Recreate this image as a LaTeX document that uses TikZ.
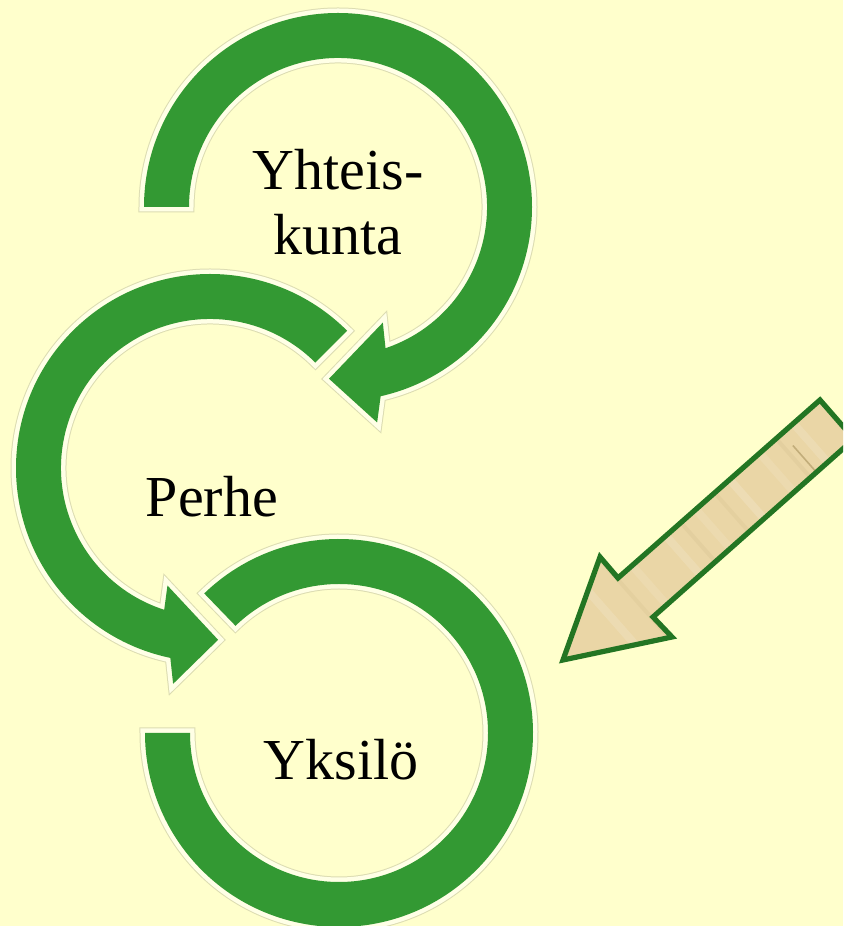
\documentclass[tikz,border=0pt]{standalone}
\usepackage{fontspec}
\setmainfont{Liberation Serif}
\usetikzlibrary{positioning}

\definecolor{paper}{HTML}{FFFFCC}
\definecolor{leaf}{HTML}{339933}
\definecolor{glow}{HTML}{FFFFE6}
\definecolor{rim}{HTML}{DCDCB2}
\definecolor{wood}{HTML}{EAD6A6}
\definecolor{grain}{HTML}{9C8650}
\definecolor{woodrim}{HTML}{237523}

\begin{document}
\begin{tikzpicture}[x=0.5pt, y=0.5pt,
    loop/.style={fill=leaf, preaction={draw=rim, line width=5.5pt}, preaction={draw=glow, line width=4.5pt}},
    pointer/.style={draw=woodrim, line width=2.6pt, line join=miter},
    word/.style={font=\fontsize{29}{32}\selectfont, anchor=base, inner sep=0pt}]

    % Background
    \fill[paper] (0,0) rectangle (843,926);
    \useasboundingbox (0,0) rectangle (843,926);
    \clip (0,0) rectangle (843,926);

    % Loops
    % Yhteiskunta
    \begin{scope}[shift={(338,719)}]
        \path[loop] (180:194) arc[start angle=180, end angle=-77.3, radius=194]
            -- (-79.7:219) -- (-93:172) -- (-68.8:124) -- (-71.4:149)
            arc[start angle=-71.4, end angle=180, radius=149] -- cycle;
    \end{scope}

    % Perhe
    \begin{scope}[shift={(210,458)}]
        \path[loop] (45:194) arc[start angle=45, end angle=258.2, radius=194]
            -- (260.3:219) -- (272.7:172) -- (250.1:125) -- (252.1:149)
            arc[start angle=252.1, end angle=45, radius=149] -- cycle;
    \end{scope}

    % Yksilo
    \begin{scope}[shift={(339,193)}]
        \path[loop] (134:194) arc[start angle=134, end angle=-180, radius=194]
            -- (180:149) arc[start angle=-180, end angle=134, radius=149] -- cycle;
    \end{scope}

    % Pointer
    \begin{scope}
        \clip (820,526) -- (854,487) -- (653,309) -- (672,289) -- (563,266)
            -- (600,369) -- (618,348) -- cycle;
        \fill[wood] (540,250) rectangle (860,540);
        % grain
        \foreach \t/\o in {35/0.14, 80/0.1, 120/0.16, 165/0.1, 205/0.14, 250/0.1, 300/0.14}
            \draw[white, opacity=\o, line width=4pt]
                ({837-0.750*\t-0.661*90},{506-0.661*\t+0.750*90})
                -- ({837-0.750*\t+0.661*90},{506-0.661*\t-0.750*90});
        \foreach \t/\o in {58/0.08, 140/0.07, 185/0.08, 270/0.07}
            \draw[grain, opacity=\o, line width=2pt]
                ({837-0.750*\t-0.661*90},{506-0.661*\t+0.750*90})
                -- ({837-0.750*\t+0.661*90},{506-0.661*\t-0.750*90});
        \draw[grain, opacity=0.5, line width=0.8pt]
            ({837-0.750*50-0.661*10},{506-0.661*50+0.750*10})
            -- ({837-0.750*50+0.661*40},{506-0.661*50-0.750*40});
    \end{scope}
    \draw[pointer] (820,526) -- (854,487) -- (653,309) -- (672,289) -- (563,266)
        -- (600,369) -- (618,348) -- cycle;

    % Labels
    \node[word] (yht) at (338,736) {Yhteis-};
    \node[word] (kun) at (338,671) {kunta};
    \node[word] (per) at (212,409) {Perhe};
    \node[word] (yks) at (341,146) {Yksilö};

\end{tikzpicture}
\end{document}
